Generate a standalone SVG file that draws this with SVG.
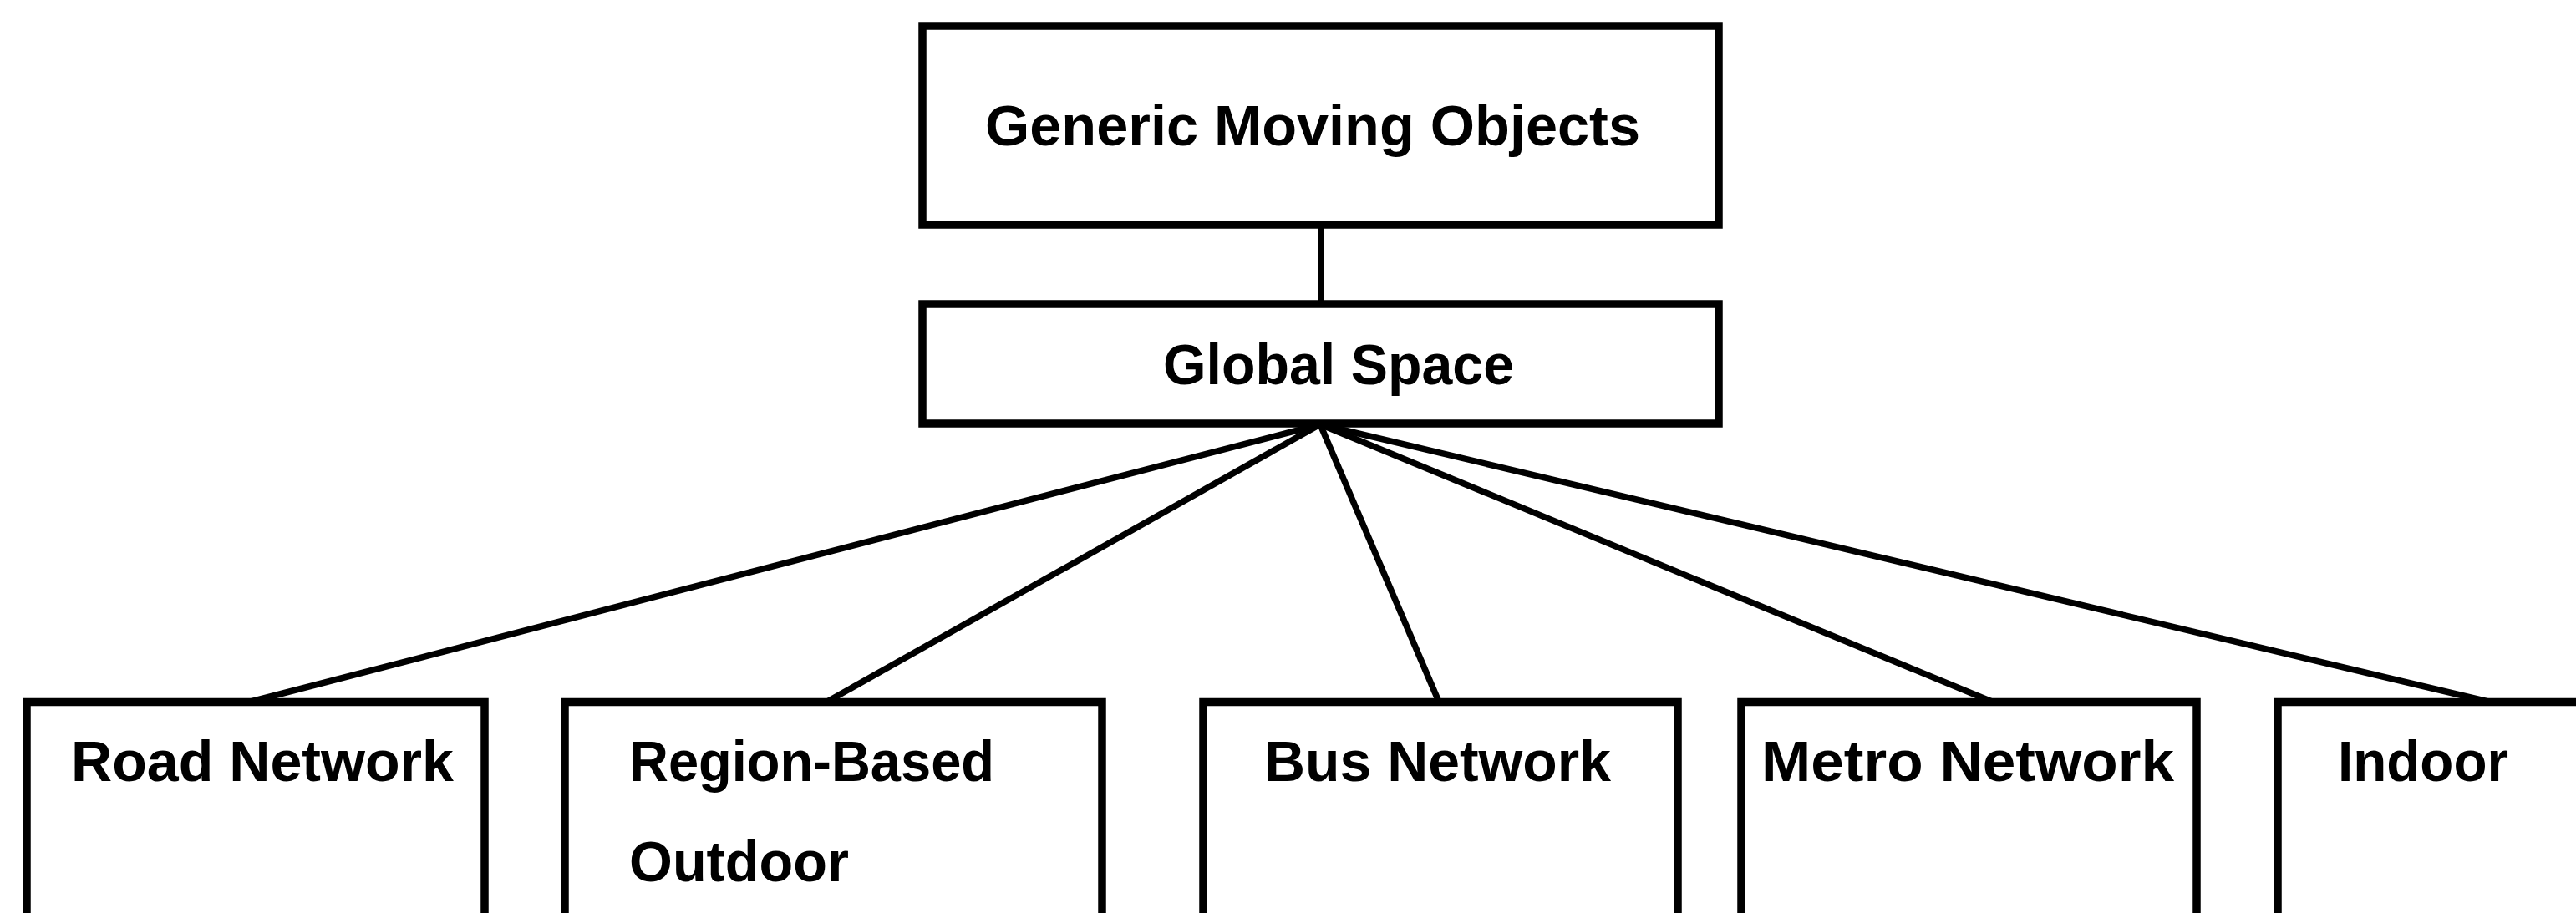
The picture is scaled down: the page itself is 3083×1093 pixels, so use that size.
<svg xmlns="http://www.w3.org/2000/svg" width="3083" height="1093" viewBox="0 0 3083 1093">
<style>
.box{fill:#fff;stroke:#000;stroke-width:9.5}
.lbl{font-family:"Liberation Sans",Arial,sans-serif;font-weight:bold;font-size:68px;fill:#000}
.conn{stroke:#000;stroke-width:7.5;fill:none}
</style>
<rect width="3083" height="1093" fill="#fff"/>
<g id="connectors">
<line class="conn" x1="1581" y1="269" x2="1581" y2="364"/>
<line class="conn" x1="1580" y1="508" x2="300" y2="840"/>
<line class="conn" x1="1580" y1="508" x2="990" y2="840"/>
<line class="conn" x1="1580" y1="508" x2="1722" y2="840"/>
<line class="conn" x1="1580" y1="508" x2="2384" y2="840"/>
<line class="conn" x1="1580" y1="508" x2="2978" y2="840"/>
</g>
<g id="generic-moving-objects">
<rect class="box" x="1104" y="31" width="953" height="238"/>
<text class="lbl" x="1179" y="174" textLength="784" lengthAdjust="spacingAndGlyphs">Generic Moving Objects</text>
</g>
<g id="global-space">
<rect class="box" x="1104" y="364" width="953" height="143"/>
<text class="lbl" x="1392" y="460" textLength="420" lengthAdjust="spacingAndGlyphs">Global Space</text>
</g>
<g id="road-network">
<rect class="box" x="32" y="840.5" width="548" height="400"/>
<text class="lbl" x="85" y="935" textLength="458" lengthAdjust="spacingAndGlyphs">Road Network</text>
</g>
<g id="region-based-outdoor">
<rect class="box" x="676" y="840.5" width="643" height="400"/>
<text class="lbl" x="753" y="935" textLength="437" lengthAdjust="spacingAndGlyphs">Region-Based</text>
<text class="lbl" x="753" y="1055" textLength="263" lengthAdjust="spacingAndGlyphs">Outdoor</text>
</g>
<g id="bus-network">
<rect class="box" x="1440" y="840.5" width="568" height="400"/>
<text class="lbl" x="1513" y="935" textLength="415" lengthAdjust="spacingAndGlyphs">Bus Network</text>
</g>
<g id="metro-network">
<rect class="box" x="2084" y="840.5" width="545" height="400"/>
<text class="lbl" x="2108" y="935" textLength="494" lengthAdjust="spacingAndGlyphs">Metro Network</text>
</g>
<g id="indoor">
<rect class="box" x="2726" y="840.5" width="500" height="400"/>
<text class="lbl" x="2798" y="935" textLength="204" lengthAdjust="spacingAndGlyphs">Indoor</text>
</g>
</svg>
